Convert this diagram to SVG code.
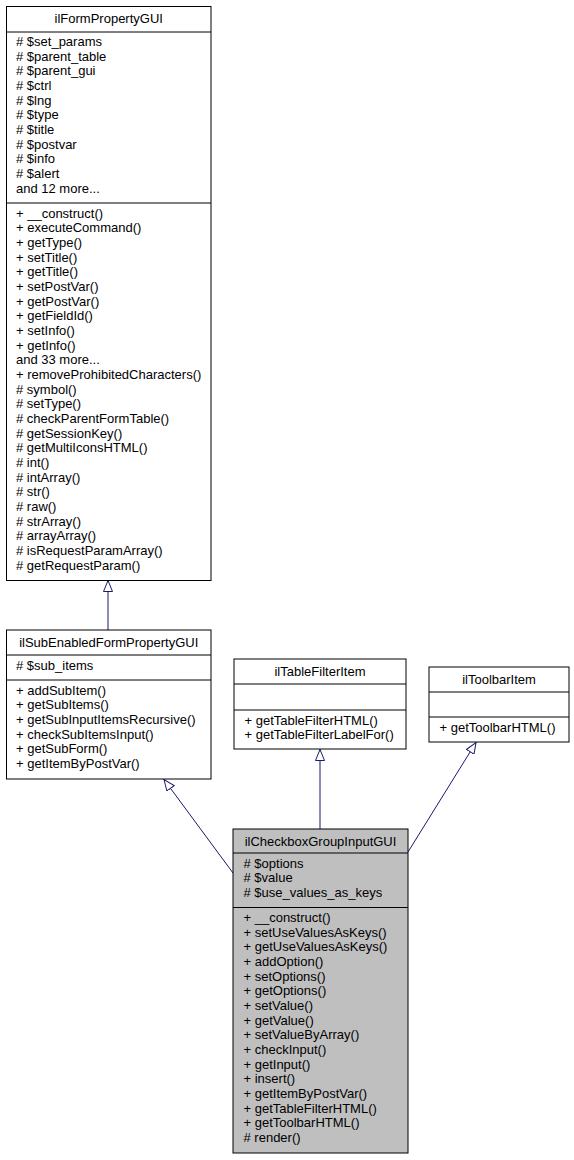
<svg xmlns="http://www.w3.org/2000/svg" width="574" height="1160" viewBox="0 0 574 1160">
<style>
  .box { fill: #ffffff; stroke: #000000; stroke-width: 1; }
  .cur { fill: #bfbfbf; stroke: #000000; stroke-width: 1; }
  .sep { stroke: #000000; stroke-width: 1; }
  text { font-family: "Liberation Sans", Arial, Helvetica, sans-serif; font-size: 13px; fill: #000000; }
  .title { text-anchor: middle; }
  .edge { fill: none; stroke: #191970; stroke-width: 1; }
</style>
<defs>
  <marker id="inh" markerUnits="userSpaceOnUse" viewBox="0 0 12 10" markerWidth="12" markerHeight="10" refX="11.5" refY="5" orient="auto">
    <path d="M0.5,0.5 L11.5,5 L0.5,9.5 Z" fill="#ffffff" stroke="#191970" stroke-width="1"/>
  </marker>
</defs>
<rect width="574" height="1160" fill="#ffffff"/>

<g id="connectors">
  <line class="edge" x1="108" y1="630" x2="108" y2="580.5" marker-end="url(#inh)"/>
  <line class="edge" x1="233" y1="873" x2="164" y2="779.5" marker-end="url(#inh)"/>
  <line class="edge" x1="320" y1="829" x2="320" y2="749.5" marker-end="url(#inh)"/>
  <line class="edge" x1="408" y1="852" x2="476" y2="742.5" marker-end="url(#inh)"/>
</g>

<g id="ilFormPropertyGUI">
  <rect class="box" x="6.5" y="6.5" width="204.5" height="574"/>
  <line class="sep" x1="6.5" y1="32" x2="211" y2="32"/>
  <line class="sep" x1="6.5" y1="203" x2="211" y2="203"/>
  <text class="title" x="108.75" y="23">ilFormPropertyGUI</text>
  <text x="16" y="46">
    <tspan x="16">#&#160;$set_params</tspan>
    <tspan x="16" dy="14.67">#&#160;$parent_table</tspan>
    <tspan x="16" dy="14.67">#&#160;$parent_gui</tspan>
    <tspan x="16" dy="14.67">#&#160;$ctrl</tspan>
    <tspan x="16" dy="14.67">#&#160;$lng</tspan>
    <tspan x="16" dy="14.67">#&#160;$type</tspan>
    <tspan x="16" dy="14.67">#&#160;$title</tspan>
    <tspan x="16" dy="14.67">#&#160;$postvar</tspan>
    <tspan x="16" dy="14.67">#&#160;$info</tspan>
    <tspan x="16" dy="14.67">#&#160;$alert</tspan>
    <tspan x="16" dy="14.67">and 12 more...</tspan>
  </text>
  <text x="16" y="217.5">
    <tspan x="16">+&#160;__construct()</tspan>
    <tspan x="16" dy="14.67">+&#160;executeCommand()</tspan>
    <tspan x="16" dy="14.67">+&#160;getType()</tspan>
    <tspan x="16" dy="14.67">+&#160;setTitle()</tspan>
    <tspan x="16" dy="14.67">+&#160;getTitle()</tspan>
    <tspan x="16" dy="14.67">+&#160;setPostVar()</tspan>
    <tspan x="16" dy="14.67">+&#160;getPostVar()</tspan>
    <tspan x="16" dy="14.67">+&#160;getFieldId()</tspan>
    <tspan x="16" dy="14.67">+&#160;setInfo()</tspan>
    <tspan x="16" dy="14.67">+&#160;getInfo()</tspan>
    <tspan x="16" dy="14.67">and 33 more...</tspan>
    <tspan x="16" dy="14.67">+&#160;removeProhibitedCharacters()</tspan>
    <tspan x="16" dy="14.67">#&#160;symbol()</tspan>
    <tspan x="16" dy="14.67">#&#160;setType()</tspan>
    <tspan x="16" dy="14.67">#&#160;checkParentFormTable()</tspan>
    <tspan x="16" dy="14.67">#&#160;getSessionKey()</tspan>
    <tspan x="16" dy="14.67">#&#160;getMultiIconsHTML()</tspan>
    <tspan x="16" dy="14.67">#&#160;int()</tspan>
    <tspan x="16" dy="14.67">#&#160;intArray()</tspan>
    <tspan x="16" dy="14.67">#&#160;str()</tspan>
    <tspan x="16" dy="14.67">#&#160;raw()</tspan>
    <tspan x="16" dy="14.67">#&#160;strArray()</tspan>
    <tspan x="16" dy="14.67">#&#160;arrayArray()</tspan>
    <tspan x="16" dy="14.67">#&#160;isRequestParamArray()</tspan>
    <tspan x="16" dy="14.67">#&#160;getRequestParam()</tspan>
  </text>
</g>

<g id="ilSubEnabledFormPropertyGUI">
  <rect class="box" x="6.5" y="630" width="204.5" height="149"/>
  <line class="sep" x1="6.5" y1="655" x2="211" y2="655"/>
  <line class="sep" x1="6.5" y1="680" x2="211" y2="680"/>
  <text class="title" x="108.75" y="646.5">ilSubEnabledFormPropertyGUI</text>
  <text x="16" y="669.5">#&#160;$sub_items</text>
  <text x="16" y="694.5">
    <tspan x="16">+&#160;addSubItem()</tspan>
    <tspan x="16" dy="14.67">+&#160;getSubItems()</tspan>
    <tspan x="16" dy="14.67">+&#160;getSubInputItemsRecursive()</tspan>
    <tspan x="16" dy="14.67">+&#160;checkSubItemsInput()</tspan>
    <tspan x="16" dy="14.67">+&#160;getSubForm()</tspan>
    <tspan x="16" dy="14.67">+&#160;getItemByPostVar()</tspan>
  </text>
</g>

<g id="ilTableFilterItem">
  <rect class="box" x="234" y="659" width="172" height="90"/>
  <line class="sep" x1="234" y1="684" x2="406" y2="684"/>
  <line class="sep" x1="234" y1="710" x2="406" y2="710"/>
  <text class="title" x="320" y="675.5">ilTableFilterItem</text>
  <text x="244.5" y="724.5">
    <tspan x="244.5">+&#160;getTableFilterHTML()</tspan>
    <tspan x="244.5" dy="14.67">+&#160;getTableFilterLabelFor()</tspan>
  </text>
</g>

<g id="ilToolbarItem">
  <rect class="box" x="429" y="667" width="140" height="75"/>
  <line class="sep" x1="429" y1="692" x2="569" y2="692"/>
  <line class="sep" x1="429" y1="717" x2="569" y2="717"/>
  <text class="title" x="499" y="683.5">ilToolbarItem</text>
  <text x="439.5" y="731.5">+&#160;getToolbarHTML()</text>
</g>

<g id="ilCheckboxGroupInputGUI">
  <rect class="cur" x="233" y="829" width="175" height="324"/>
  <line class="sep" x1="233" y1="853" x2="408" y2="853"/>
  <line class="sep" x1="233" y1="907.5" x2="408" y2="907.5"/>
  <text class="title" x="320.5" y="845.5">ilCheckboxGroupInputGUI</text>
  <text x="243.5" y="867.5">
    <tspan x="243.5">#&#160;$options</tspan>
    <tspan x="243.5" dy="14.67">#&#160;$value</tspan>
    <tspan x="243.5" dy="14.67">#&#160;$use_values_as_keys</tspan>
  </text>
  <text x="243.5" y="922">
    <tspan x="243.5">+&#160;__construct()</tspan>
    <tspan x="243.5" dy="14.67">+&#160;setUseValuesAsKeys()</tspan>
    <tspan x="243.5" dy="14.67">+&#160;getUseValuesAsKeys()</tspan>
    <tspan x="243.5" dy="14.67">+&#160;addOption()</tspan>
    <tspan x="243.5" dy="14.67">+&#160;setOptions()</tspan>
    <tspan x="243.5" dy="14.67">+&#160;getOptions()</tspan>
    <tspan x="243.5" dy="14.67">+&#160;setValue()</tspan>
    <tspan x="243.5" dy="14.67">+&#160;getValue()</tspan>
    <tspan x="243.5" dy="14.67">+&#160;setValueByArray()</tspan>
    <tspan x="243.5" dy="14.67">+&#160;checkInput()</tspan>
    <tspan x="243.5" dy="14.67">+&#160;getInput()</tspan>
    <tspan x="243.5" dy="14.67">+&#160;insert()</tspan>
    <tspan x="243.5" dy="14.67">+&#160;getItemByPostVar()</tspan>
    <tspan x="243.5" dy="14.67">+&#160;getTableFilterHTML()</tspan>
    <tspan x="243.5" dy="14.67">+&#160;getToolbarHTML()</tspan>
    <tspan x="243.5" dy="14.67">#&#160;render()</tspan>
  </text>
</g>
</svg>
